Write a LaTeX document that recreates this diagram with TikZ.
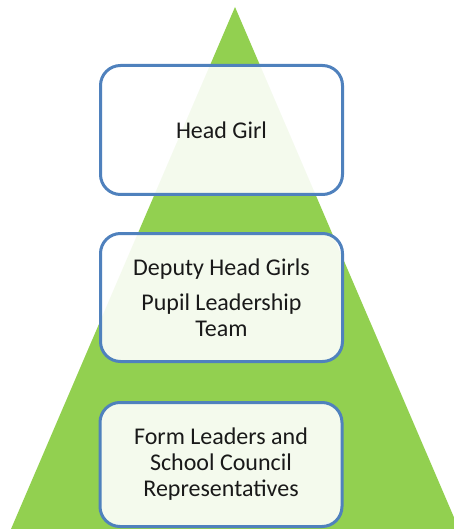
\documentclass[tikz,border=0pt]{standalone}
\usepackage{fontspec}
\setmainfont{Carlito}
\definecolor{tri}{RGB}{146,208,80}
\definecolor{edge}{RGB}{79,129,189}
\definecolor{txt}{RGB}{25,25,25}
\begin{document}
\begin{tikzpicture}[x=1pt,y=-1pt,
  level/.style={draw=edge, line width=3pt, rounded corners=20pt,
    fill=white, fill opacity=0.9, text opacity=1, text=txt,
    minimum width=242pt, align=center, font=\fontsize{24}{26}\selectfont, inner sep=0pt}]
\useasboundingbox (0,0) rectangle (454,529);
\fill[tri] (235,7) -- (459,529) -- (11,529) -- cycle;
\node[level, minimum height=129pt] (head) at (221.5,130) {Head Girl};
\node[level, minimum height=128pt] (deputy) at (221.5,297.5) {Deputy Head Girls\\[9pt]Pupil Leadership\\Team};
\node[level, minimum height=124pt] (form) at (221,464.5) {Form Leaders and\\School Council\\Representatives};
\end{tikzpicture}
\end{document}
